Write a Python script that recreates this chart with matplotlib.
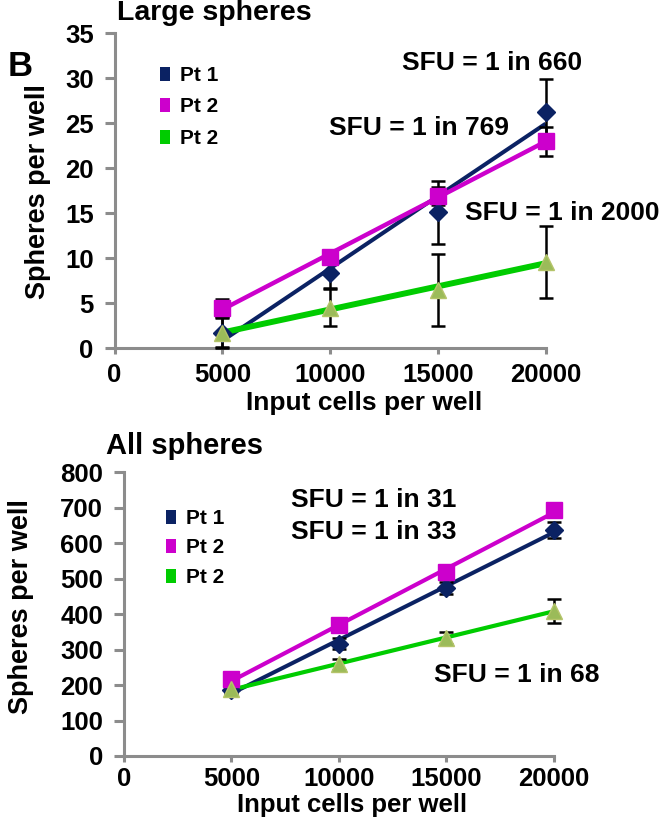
import numpy as np
import matplotlib
matplotlib.use('Agg')
import matplotlib.pyplot as plt
from matplotlib.lines import Line2D

plt.rcParams['font.family'] = ['Liberation Sans', 'DejaVu Sans']
plt.rcParams['font.weight'] = 'bold'

cells = [5000, 10000, 15000, 20000]
series_labels = ['Pt 1', 'Pt 2', 'Pt 2']

# large spheres
large_pt1 = [1.7, 8.4, 15.1, 26.3]
large_pt1_err = [1.7, 1.7, 3.5, 3.6]
large_pt2 = [4.5, 10.1, 16.9, 23.0]
large_pt2_err = [0.9, 0.8, 1.0, 1.6]
large_pt3 = [1.7, 4.5, 6.5, 9.6]
large_pt3_err = [1.6, 2.1, 4.0, 4.0]
large_sfu = ['SFU = 1 in 660', 'SFU = 1 in 769', 'SFU = 1 in 2000']

# all spheres
all_pt1 = [185, 317, 474, 638]
all_pt1_err = [12, 16, 16, 22]
all_pt2 = [216, 368, 518, 694]
all_pt2_err = [10, 10, 20, 14]
all_pt3 = [189, 258, 333, 410]
all_pt3_err = [10, 15, 18, 34]
all_sfu = ['SFU = 1 in 31', 'SFU = 1 in 33', 'SFU = 1 in 68']

navy = '#0b2263'
magenta = '#cc00cc'
green = '#00cc00'
olive = '#9bbb59'
grey = '#8c8c8c'

# tall rectangle used for the legend keys
rect = [(-0.75, -1), (0.75, -1), (0.75, 1), (-0.75, 1), (-0.75, -1)]

W, H = 663, 817
fig = plt.figure(figsize=(W / 100, H / 100), dpi=100)

def px(x, y):
    return x / W, 1 - y / H


def draw_panel(ax, ys, errs, lws, ymax, ystep, xpad):
    styles = [
        dict(marker='D', ms=9, mfc=navy, mec=navy, color=navy),
        dict(marker='s', ms=12, mfc=magenta, mec=magenta, color=magenta),
        dict(marker='^', ms=12, mfc=olive, mec='#b5c46a', color=green),
    ]
    x = np.array(cells, dtype=float)
    for y, e, st, lw in zip(ys, errs, styles, lws):
        y = np.array(y, dtype=float)
        k, b = np.polyfit(x, y, 1)
        ax.plot(x, k * x + b, color=st['color'], lw=lw, zorder=2,
                solid_capstyle='butt', clip_on=False)
        ax.errorbar(x, y, yerr=e, fmt='none', ecolor='black', elinewidth=1.8,
                    capsize=4.8, capthick=1.8, zorder=3, clip_on=False)
        ax.plot(x, y, ls='none', marker=st['marker'], ms=st['ms'],
                mfc=st['mfc'], mec=st['mec'], mew=1, zorder=4, clip_on=False)
    ax.set_xlim(0, 20000)
    ax.set_ylim(0, ymax)
    ax.set_xticks([0, 5000, 10000, 15000, 20000])
    ax.set_yticks(np.arange(0, ymax + 1, ystep))
    for s in ['top', 'right']:
        ax.spines[s].set_visible(False)
    for s in ['left', 'bottom']:
        ax.spines[s].set_color(grey)
        ax.spines[s].set_linewidth(2.2)
    ax.tick_params(axis='y', colors=grey, width=2.2, length=7, direction='out',
                   labelcolor='black', labelsize=18.5, pad=8)
    ax.tick_params(axis='x', colors=grey, width=2.2, length=4, direction='out',
                   labelcolor='black', labelsize=18.5, pad=xpad)
    for t in ax.get_xticklabels() + ax.get_yticklabels():
        t.set_fontweight('bold')
    handles = [Line2D([], [], ls='none', marker=rect, ms=10, mfc=c, mec=c, mew=0)
               for c in [navy, magenta, green]]
    return handles


# top panel
ax1 = fig.add_axes([0.1727, 0.574, 0.6503, 0.3852])
h1 = draw_panel(ax1, [large_pt1, large_pt2, large_pt3],
                [large_pt1_err, large_pt2_err, large_pt3_err],
                [2.9, 3.2, 4.3], 35, 5, 7)
ax1.legend(h1, series_labels, loc='upper left', bbox_to_anchor=px(157, 66),
           bbox_transform=fig.transFigure, frameon=False, fontsize=15,
           handlelength=0.75, handletextpad=0.35, labelspacing=0.6,
           borderpad=0, borderaxespad=0)
fig.text(*px(117, 0), 'Large spheres', fontsize=20.5, fontweight='bold', va='top')
fig.text(*px(8, 66), 'B', fontsize=25, fontweight='bold', va='center')
fig.text(*px(38, 192), 'Spheres per well', fontsize=19.5, fontweight='bold',
         rotation=90, ha='center', va='center')
fig.text(*px(364, 403), 'Input cells per well', fontsize=19, fontweight='bold',
         ha='center', va='center')
for s, (x, y) in zip(large_sfu, [(492, 63), (419, 128), (562, 213)]):
    fig.text(*px(x, y), s, fontsize=19, fontweight='bold', ha='center', va='center')

# bottom panel
ax2 = fig.add_axes([0.187, 0.0747, 0.6486, 0.3472])
h2 = draw_panel(ax2, [all_pt1, all_pt2, all_pt3],
                [all_pt1_err, all_pt2_err, all_pt3_err],
                [2.9, 3.0, 3.0], 800, 100, 4)
ax2.legend(h2, series_labels, loc='upper left', bbox_to_anchor=px(163, 509),
           bbox_transform=fig.transFigure, frameon=False, fontsize=15,
           handlelength=0.75, handletextpad=0.35, labelspacing=0.5,
           borderpad=0, borderaxespad=0)
fig.text(*px(106, 446), 'All spheres', fontsize=21, fontweight='bold', va='center')
fig.text(*px(21, 607), 'Spheres per well', fontsize=19.5, fontweight='bold',
         rotation=90, ha='center', va='center')
fig.text(*px(352, 817), 'Input cells per well', fontsize=18.5, fontweight='bold',
         ha='center', va='bottom')
for s, (x, y) in zip(all_sfu, [(374, 500), (374, 532), (517, 675)]):
    fig.text(*px(x, y), s, fontsize=19, fontweight='bold', ha='center', va='center')

fig.savefig('out.png', dpi=100)
